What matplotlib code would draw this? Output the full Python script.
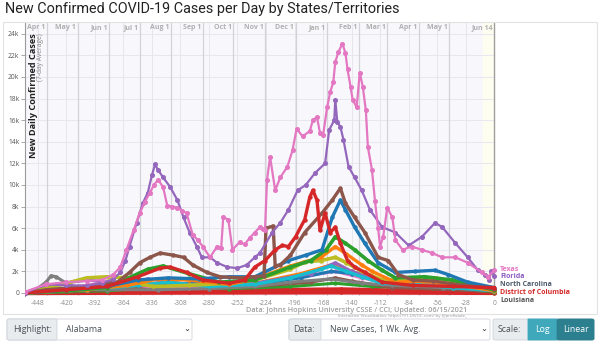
import matplotlib
matplotlib.use("Agg")
import matplotlib.pyplot as plt
from matplotlib.patches import FancyBboxPatch, Rectangle
import pandas as pd

# Jours relatifs au 14 juin 2021, valeurs en milliers de cas (moyenne 7 jours)
texas_days = [-461, -440, -420, -400, -385, -374, -367, -361, -354, -348, -343, -338, -334, -330, -325,
              -321, -316, -311, -306, -302, -296, -291, -286, -279, -272, -268, -266, -261, -257, -250,
              -245, -240, -235, -230, -227, -225, -223, -220, -215, -210, -203, -198, -194, -188, -181,
              -178, -174, -171, -168, -164, -161, -158, -156, -153, -149, -146, -144, -141, -139, -135,
              -132, -129, -126, -124, -120, -117, -114, -112, -109, -105, -100, -97, -90, -81, -71,
              -61, -51, -38, -26, -12, -6, 0]
texas_vals = [0.1, 0.8, 1.0, 1.1, 1.2, 1.7, 2.4, 4.0, 5.8, 7.4, 8.4, 9.3, 10.0, 10.5, 9.8,
              8.1, 8.0, 7.9, 7.6, 7.4, 5.4, 4.9, 4.3, 3.3, 4.3, 4.2, 7.0, 6.8, 4.0, 4.7,
              4.5, 5.1, 5.6, 6.1, 5.9, 5.8, 10.5, 12.6, 9.5, 10.7, 11.7, 13.2, 15.2, 14.5, 15.0,
              16.0, 16.3, 14.8, 14.6, 17.2, 18.6, 19.5, 21.4, 22.3, 23.1, 22.2, 20.7, 19.1, 17.9, 17.2,
              20.4, 19.1, 16.9, 13.5, 11.4, 8.5, 6.0, 4.3, 5.2, 7.9, 7.0, 4.9, 4.0, 4.3, 4.0,
              3.7, 3.3, 3.3, 2.8, 1.9, 1.5, 2.1]

florida_days = [-461, -440, -420, -400, -385, -374, -367, -362, -358, -351, -345, -340, -336, -333, -330,
                -325, -318, -311, -305, -299, -292, -287, -279, -272, -262, -252, -243, -235, -230, -218,
                -210, -202, -193, -185, -176, -166, -162, -157, -156, -154, -151, -148, -143, -137, -130,
                -122, -110, -97, -84, -71, -58, -51, -38, -26, -16, -9, -5, -3, 0]
florida_vals = [0.0, 0.8, 0.7, 0.7, 0.9, 1.3, 1.9, 3.0, 4.3, 6.5, 8.3, 9.3, 10.9, 11.9, 11.4,
                10.7, 9.8, 8.6, 7.0, 5.6, 4.3, 3.3, 3.3, 2.8, 2.4, 2.3, 2.6, 3.3, 3.7, 5.6,
                6.5, 7.7, 9.5, 10.0, 11.1, 12.0, 15.1, 16.0, 17.9, 15.8, 15.4, 14.2, 11.7, 10.7, 9.5,
                7.7, 6.1, 5.6, 4.4, 5.2, 6.5, 6.1, 4.6, 3.3, 2.1, 1.7, 1.2, 2.0, 1.6]

brown1_days = [-461, -440, -400, -370, -358, -348, -338, -328, -315, -305, -296, -282, -269, -250, -235,
               -226, -224, -217, -215, -210, -200, -186, -169, -159, -151, -146, -137, -127, -114, -104,
               -94, -80, -60, -30, 0]
brown1_vals = [0.0, 0.3, 0.6, 1.0, 1.9, 2.8, 3.3, 3.7, 3.5, 3.3, 2.6, 1.9, 1.5, 1.4, 1.5,
               1.6, 6.0, 6.2, 2.5, 2.6, 3.5, 5.6, 7.4, 8.6, 9.7, 8.3, 7.0, 5.6, 3.3, 3.0,
               1.7, 1.2, 1.1, 0.7, 0.4]

red1_days = [-461, -420, -380, -350, -328, -318, -302, -286, -260, -245, -235, -225, -215, -208, -202,
             -195, -186, -181, -178, -174, -171, -166, -161, -156, -151, -144, -137, -127, -110, -80,
             -40, 0]
red1_vals = [0.0, 0.3, 0.6, 1.5, 2.3, 2.4, 1.9, 1.2, 0.9, 1.2, 2.4, 3.0, 4.0, 4.4, 4.3,
             5.2, 6.8, 8.9, 9.5, 8.6, 5.8, 7.4, 5.6, 6.1, 4.6, 3.0, 2.4, 1.9, 1.0, 0.7,
             0.6, 0.5]

blue1_days = [-461, -420, -380, -350, -320, -290, -260, -235, -202, -185, -169, -159, -151, -146, -137,
              -127, -114, -97, -78, -58, -45, -26, 0]
blue1_vals = [0.0, 0.3, 0.6, 1.2, 1.4, 1.3, 1.5, 1.5, 3.0, 3.5, 4.0, 7.0, 8.6, 7.7, 6.1,
              4.6, 2.8, 1.9, 2.0, 2.1, 1.7, 1.0, 0.5]

green1_days = [-461, -420, -380, -340, -325, -300, -270, -235, -200, -180, -165, -156, -146, -137, -124,
               -110, -97, -68, -41, -20, 0]
green1_vals = [0.0, 0.2, 0.5, 2.2, 2.5, 1.8, 1.0, 1.2, 2.4, 3.0, 4.0, 5.2, 4.6, 4.0, 3.0,
               2.1, 1.4, 1.5, 1.2, 0.7, 0.3]

orange1_days = [-461, -400, -360, -330, -300, -260, -235, -200, -170, -156, -145, -130, -120, -97, -70, -40, 0]
orange1_vals = [0.0, 0.3, 0.7, 1.3, 1.2, 0.8, 1.3, 2.5, 3.3, 4.3, 3.6, 2.6, 2.0, 1.0, 1.1, 0.8, 0.2]

olive1_days = [-461, -440, -420, -400, -380, -360, -345, -335, -300, -260, -235, -200, -186, -170, -156,
               -145, -130, -110, -80, -58, -40, 0]
olive1_vals = [0.0, 0.4, 0.9, 1.4, 1.5, 1.4, 0.8, 0.6, 0.7, 0.9, 1.2, 2.2, 2.9, 3.0, 3.3,
               2.8, 2.0, 1.2, 1.2, 1.4, 1.0, 0.3]

cyan1_days = [-461, -400, -350, -320, -280, -235, -200, -170, -160, -145, -130, -110, -80, -40, 0]
cyan1_vals = [0.0, 0.3, 0.7, 1.0, 0.6, 0.8, 1.4, 2.2, 2.5, 2.0, 1.5, 0.9, 0.8, 0.5, 0.2]

gray1_days = [-461, -450, -440, -435, -430, -420, -410, -380, -330, -280, -235, -200, -160, -130, -100, -50, 0]
gray1_vals = [0.0, 0.3, 1.0, 1.6, 1.5, 0.9, 0.5, 0.3, 0.3, 0.4, 0.6, 1.0, 1.3, 0.9, 0.7, 0.5, 0.2]

purple2_days = [-461, -430, -400, -370, -340, -300, -235, -180, -156, -140, -110, -60, 0]
purple2_vals = [0.0, 0.8, 1.2, 0.9, 1.3, 0.8, 0.9, 1.8, 2.8, 2.0, 1.2, 1.0, 0.3]

pink2_days = [-461, -420, -380, -340, -300, -235, -190, -156, -130, -100, -50, 0]
pink2_vals = [0.0, 0.4, 1.0, 0.6, 0.5, 0.8, 1.5, 2.0, 1.4, 0.8, 0.6, 0.2]

brown2_days = [-461, -400, -340, -280, -235, -180, -156, -140, -100, 0]
brown2_vals = [0.0, 0.2, 0.5, 0.4, 0.6, 1.0, 1.4, 1.1, 0.5, 0.15]

green2_days = [-461, -380, -330, -260, -200, -156, -120, -60, 0]
green2_vals = [0.0, 0.2, 0.5, 0.4, 0.6, 0.9, 0.6, 0.5, 0.1]

blue2_days = [-461, -400, -340, -300, -240, -190, -160, -140, -110, -70, -40, 0]
blue2_vals = [0.0, 0.3, 0.8, 0.9, 0.7, 1.4, 2.0, 1.8, 1.2, 1.3, 0.9, 0.3]

orange2_days = [-461, -380, -330, -290, -235, -190, -160, -140, -110, -60, 0]
orange2_vals = [0.0, 0.4, 0.9, 0.7, 0.9, 1.8, 2.6, 2.0, 1.1, 0.9, 0.2]

red2_days = [-461, -400, -300, -200, -150, -100, 0]
red2_vals = [0.0, 0.15, 0.2, 0.3, 0.35, 0.25, 0.1]

red3_days = [-461, -300, -150, 0]
red3_vals = [0.02, 0.06, 0.08, 0.03]

month_starts = ["2020-04-01", "2020-05-01", "2020-06-01", "2020-07-01", "2020-08-01", "2020-09-01",
                "2020-10-01", "2020-11-01", "2020-12-01", "2021-01-01", "2021-02-01", "2021-03-01",
                "2021-04-01", "2021-05-01"]
x_ticks = [-448, -420, -392, -364, -336, -308, -280, -252, -224, -196, -168, -140, -112, -84, -56, -28, 0]
y_ticks = [0, 2, 4, 6, 8, 10, 12, 14, 16, 18, 20, 22, 24]

end_labels = ["Texas", "Florida", "North Carolina", "District of Columbia", "Louisiana"]
end_label_y = [2.22, 1.48, 0.8, 0.04, -0.72]
end_label_colors = ["#e377c2", "#8a5cc0", "#4b5b6b", "#d62728", "#555555"]

C = {"blue": "#1f77b4", "orange": "#ff7f0e", "green": "#2ca02c", "red": "#d62728", "purple": "#9467bd",
     "brown": "#8c564b", "pink": "#e377c2", "gray": "#7f7f7f", "olive": "#bcbd22", "cyan": "#17becf"}

ref = pd.Timestamp("2021-06-14")
month_days = [(pd.Timestamp(m) - ref).days for m in month_starts]

fig = plt.figure(figsize=(6, 3.44), dpi=100)
plt.rcParams["font.family"] = ["Open Sans", "DejaVu Sans"]

W, H = 600.0, 344.0
ax = fig.add_axes([25 / W, 1 - 296 / H, 567 / W, 273 / H])
ax.set_xlim(-460.6, 96)
ax.set_ylim(-0.28, 25.0)
ax.set_facecolor("white")
for s in ["top", "right", "bottom"]:
    ax.spines[s].set_visible(False)
ax.spines["left"].set_color("#9a9a9a")
ax.spines["left"].set_linewidth(0.8)

# fond du graphique
ax.axvspan(-460.6, 0, color="#f8f8fc", zorder=0)
ax.axvspan(-11, 0, color="#fdfdf0", zorder=0)
for yv in y_ticks:
    ax.plot([-460.6, 0], [yv, yv], color="#e7e7ef", lw=0.7, zorder=1)
for xv in x_ticks:
    ax.axvline(xv, color="#e6e6ec", lw=0.7, zorder=1)
for d in month_days:
    ax.axvline(d, color="#d2d2d8", lw=0.9, zorder=1)
ax.axvline(0, color="#a0a0a0", lw=1.0, zorder=1)

# libellés des mois en haut
for m, d in zip(month_starts + ["2021-06-14"], month_days + [0]):
    ts = pd.Timestamp(m)
    ax.text(d - 1.5, 24.6, f"{ts.strftime('%b')} {ts.day}", ha="right", va="center",
            fontsize=5, color="#b0b0b0", fontweight="bold", zorder=3)

small = [
    (red3_days, red3_vals, C["red"], 3.5),
    (red2_days, red2_vals, C["red"], 2.8),
    (green2_days, green2_vals, C["green"], 2.2),
    (brown2_days, brown2_vals, C["brown"], 2.2),
    (pink2_days, pink2_vals, C["pink"], 2.2),
    (orange2_days, orange2_vals, C["orange"], 2.2),
    (blue2_days, blue2_vals, C["blue"], 2.2),
    (purple2_days, purple2_vals, C["purple"], 2.2),
    (gray1_days, gray1_vals, C["gray"], 2.2),
    (cyan1_days, cyan1_vals, C["cyan"], 2.4),
    (olive1_days, olive1_vals, C["olive"], 2.6),
    (orange1_days, orange1_vals, C["orange"], 2.4),
    (green1_days, green1_vals, C["green"], 2.6),
    (blue1_days, blue1_vals, C["blue"], 2.4),
    (brown1_days, brown1_vals, C["brown"], 2.4),
    (red1_days, red1_vals, C["red"], 2.4),
]
for days, vals, col, lw in small:
    ax.plot(days, vals, color=col, lw=lw, marker="o", ms=2.2, zorder=4, solid_joinstyle="round")

ax.plot(florida_days, florida_vals, color=C["purple"], lw=1.6, marker="o", ms=2.6, zorder=5)
ax.plot(texas_days, texas_vals, color=C["pink"], lw=1.6, marker="o", ms=2.6, zorder=6)

for lab, yv, col in zip(end_labels, end_label_y, end_label_colors):
    ax.text(6, yv, lab, fontsize=5.0, color=col, fontweight="bold", va="center", ha="left", zorder=7)

ax.set_xticks(x_ticks)
ax.set_xticklabels([str(v) for v in x_ticks])
ax.set_yticks(y_ticks)
ax.set_yticklabels(["0"] + [f"{v}k" for v in y_ticks[1:]])
ax.tick_params(axis="x", length=0, labelsize=4.8, colors="#8a8a8a", pad=3)
ax.tick_params(axis="y", length=3, width=0.6, color="#9a9a9a", labelsize=4.8, labelcolor="#555555", pad=1)

fig.text(34 / W, 1 - 33 / H, "New Daily Confirmed Cases", rotation=90, ha="center", va="top",
         fontsize=6.6, fontweight="bold", color="#222222")
fig.text(41 / W, 1 - 33 / H, "(7-day Average)", rotation=90, ha="center", va="top",
         fontsize=4.8, color="#888888")

fig.text(5 / W, 1 - 9 / H, "New Confirmed COVID-19 Cases per Day by States/Territories",
         fontsize=10.4, color="#222222", va="center", ha="left", family=["Roboto", "DejaVu Sans"])

fig.text(467 / W, 1 - 310 / H, "Data: Johns Hopkins University CSSE / CCI; Updated: 06/15/2021",
         fontsize=5.2, color="#a0a0a0", ha="right", va="center", fontweight="semibold")
fig.text(467 / W, 1 - 316.5 / H, "Interactive Visualization: https://91-DIVOC.com/ by @profwade_",
         fontsize=3.2, color="#9a9a9a", ha="right", va="center")

# cadre de la carte
fig.patches.append(Rectangle((3 / W, 1 - 314 / H), 594 / W, 292 / H, transform=fig.transFigure,
                             fill=False, edgecolor="#e2e2e2", lw=0.8))


def box(x0, x1, y0, y1, fc, ec="#ced4da", r=0.004):
    fig.patches.append(FancyBboxPatch((x0 / W, 1 - y1 / H), (x1 - x0) / W, (y1 - y0) / H,
                                      boxstyle=f"round,pad=0,rounding_size={r}", transform=fig.transFigure,
                                      facecolor=fc, edgecolor=ec, lw=0.6))


ty = 1 - 329.5 / H
box(7, 192, 319, 340, "white")
box(7, 57, 319, 340, "#e9ecef")
fig.text(13 / W, ty, "Highlight:", fontsize=6.3, color="#495057", va="center")
fig.text(66 / W, ty, "Alabama", fontsize=6.3, color="#495057", va="center")
fig.text(187 / W, ty, "⌄", fontsize=6, color="#333333", va="center", ha="center")

box(289, 490, 319, 340, "white")
box(289, 321, 319, 340, "#e9ecef")
fig.text(293 / W, ty, "Data:", fontsize=6.3, color="#495057", va="center")
fig.text(330 / W, ty, "New Cases, 1 Wk. Avg.", fontsize=6.3, color="#495057", va="center")
fig.text(484 / W, ty, "⌄", fontsize=6, color="#333333", va="center", ha="center")

box(493, 594, 319, 340, "#e9ecef")
box(528, 557, 319, 340, "#3fa9bb", ec="#3fa9bb", r=0.0)
box(557, 594, 319, 340, "#2b7f8e", ec="#2b7f8e")
fig.text(498 / W, ty, "Scale:", fontsize=6.3, color="#495057", va="center")
fig.text(542.5 / W, ty, "Log", fontsize=6.3, color="white", va="center", ha="center")
fig.text(575.5 / W, ty, "Linear", fontsize=6.3, color="white", va="center", ha="center")

fig.savefig("out.png", dpi=100, facecolor="white")
